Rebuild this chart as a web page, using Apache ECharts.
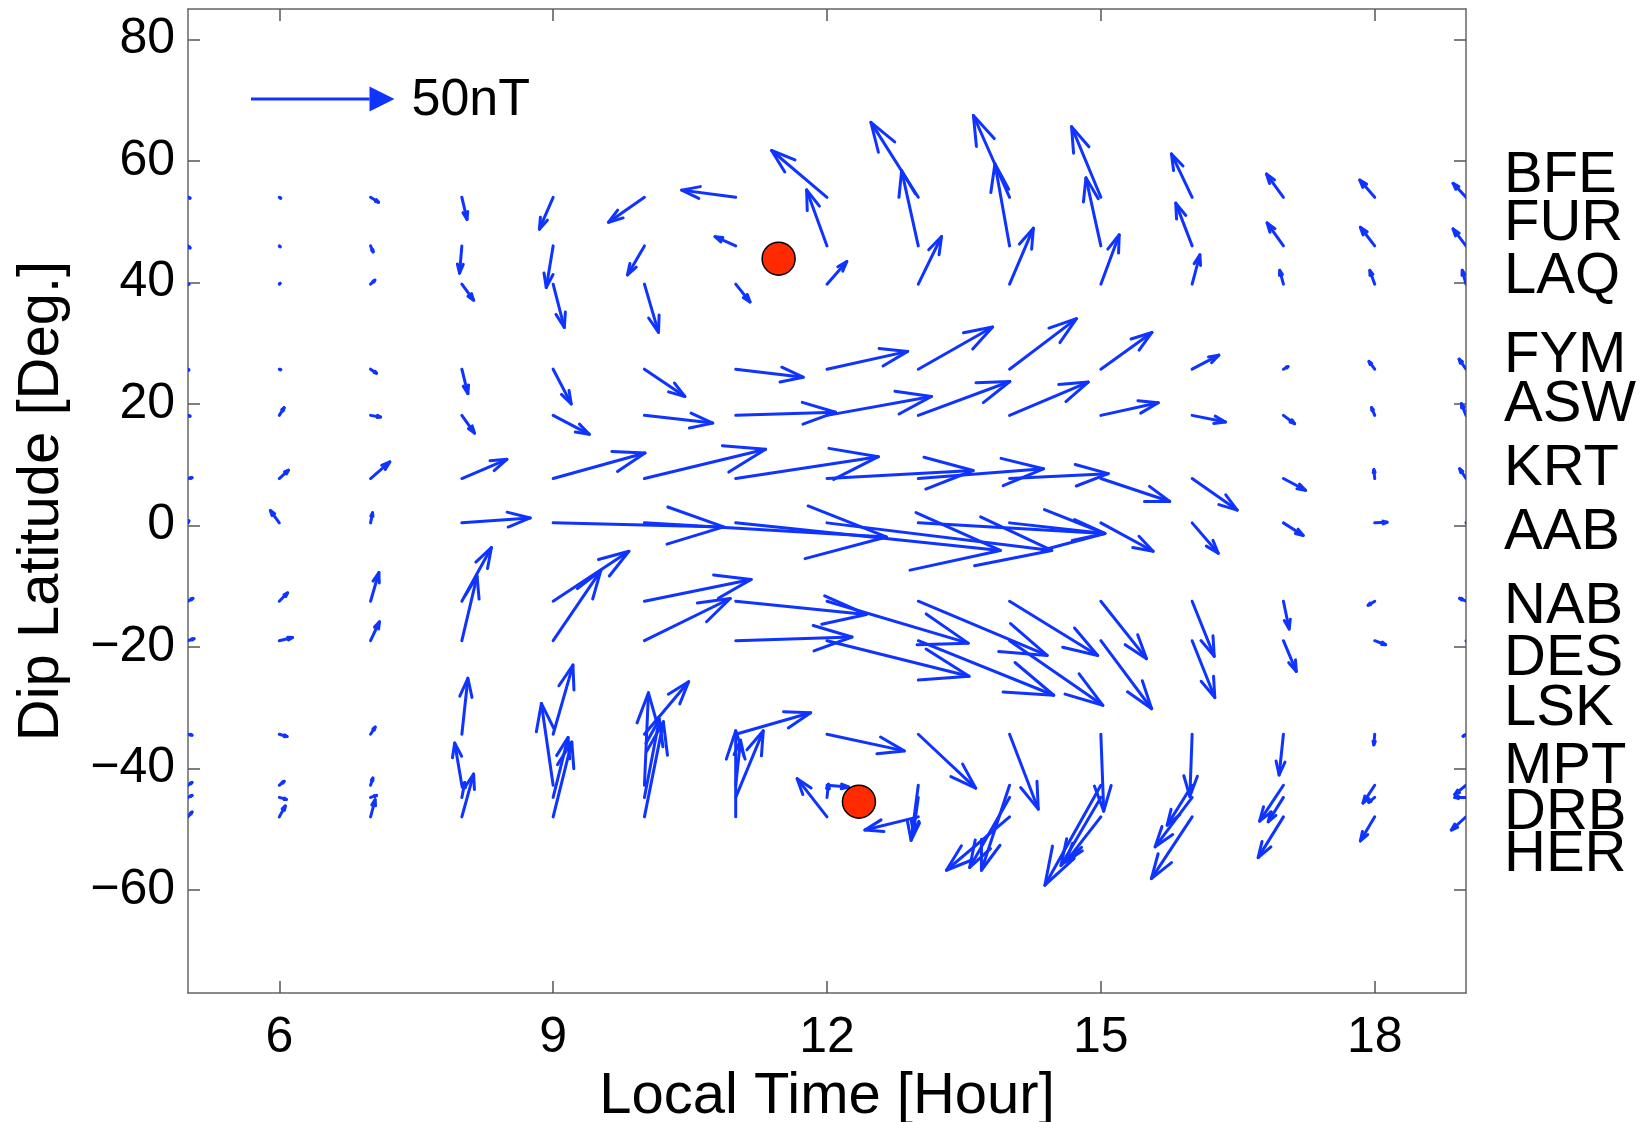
<!DOCTYPE html>
<html><head><meta charset="utf-8">
<script src="https://cdn.jsdelivr.net/npm/echarts@6/dist/echarts.min.js"></script>
<style>html,body{margin:0;padding:0;background:#fff}#c{width:1641px;height:1122px}</style>
</head><body><div id="c"></div>
<script>
// ---- data (vectors in nT: [east, north]) ----
const hours = [5,6,7,8,9,10,11,12,13,14,15,16,17,18,19];
const stations = ['BFE','FUR','LAQ','FYM','ASW','KRT','AAB','NAB','DES','LSK','MPT','DRB','HER'];
const dipLat = [54.0, 46.0, 39.7, 25.7, 18.1, 7.7, 0.4, -12.5, -19.0, -34.4, -42.8, -44.8, -48.0];
const labelLat = [57.5, 49.6, 40.8, 27.8, 19.8, 9.2, -1.2, -13.4, -22.0, -30.3, -39.8, -47.3, -54.2];

const BFE = [[0.7,-0.3],[0.5,-0.3],[2.8,-1.7],[1.8,-7.7],[-4.8,-11.1],[-12.5,-8.7],[-18.8,2.5],[-19.3,16.3],[-16.5,26.1],[-12.6,28.5],[-10.2,24.6],[-7.2,15.1],[-5.9,8.1],[-5.2,6.0],[-4.5,4.9]];
const FUR = [[0.7,-0.7],[0.3,-0.3],[0.9,-2.1],[-0.8,-9.5],[-2.4,-14.5],[-5.9,-10.1],[-7.2,3.2],[-7.1,19.5],[-5.8,26.2],[-5.1,28.6],[-5.2,23.7],[-5.7,14.9],[-5.7,8.0],[-5.0,6.5],[-4.5,5.9]];
const LAQ = [[0.3,0],[0.3,0.3],[1.5,1.4],[4.1,-5.6],[3.9,-15.1],[4.9,-16.8],[5.0,-6.2],[6.9,7.9],[8.1,16.6],[8.3,19.5],[6.4,17.2],[2.7,10.2],[-1.3,4.8],[-1.7,4.8],[-1.3,4.8]];
const FYM = [[0.3,-0.3],[0.5,-0.2],[2.1,-1.4],[2.1,-8.5],[6.3,-12.1],[14.1,-9.5],[23.5,-2.8],[28.1,6.2],[25.9,14.7],[23.3,17.6],[17.8,12.8],[9.3,4.9],[1.6,0.9],[-2.0,2.7],[-2.4,3.5]];
const ASW = [[0.7,-0.3],[1.7,2.7],[3.5,-0.6],[4.4,-6.2],[12.6,-6.6],[23.8,-2.7],[34.8,1.1],[36.4,6.6],[31.9,11.8],[27.4,11.6],[20.0,4.4],[11.6,-2.3],[3.9,-2.9],[-1.1,2.7],[-1.6,4.1]];
const KRT = [[1.4,0.3],[3.2,2.9],[6.7,5.8],[15.7,6.7],[32.0,8.9],[42.2,10.2],[49.7,7.6],[50.9,2.8],[43.6,3.4],[34.4,1.7],[24.0,-8.0],[15.7,-11.0],[7.7,-4.1],[-0.3,3.1],[-2.2,3.4]];
const AAB = [[0.3,0.7],[-3.1,4.3],[0.7,3.5],[23.8,1.7],[59.4,-1.4],[84.3,-4.9],[92.2,-9.6],[78.3,-9.6],[65.0,-3.7],[33.2,-3.7],[18.2,-9.9],[9.1,-10.6],[6.9,-4.4],[4.3,0.2],[0.3,0]];
const NAB = [[1.7,1.0],[2.9,2.9],[2.9,10.0],[10.3,18.7],[26.4,17.4],[37.2,7.6],[45.5,-4.6],[49.2,-14.6],[44.9,-18.9],[30.7,-18.9],[15.9,-20.0],[7.7,-19.2],[2.0,-9.7],[-2.3,-1.4],[-2.2,1.0]];
const DES = [[2.1,0.7],[4.6,1.1],[3.1,6.6],[5.3,22.5],[16.6,24.4],[29.9,14.7],[40.5,1.3],[49.5,-12.4],[47.2,-19.0],[32.5,-22.5],[17.7,-23.7],[7.9,-19.8],[4.5,-10.7],[3.8,-1.4],[0.7,0]];
const LSK = [[1.4,-0.3],[2.7,-0.8],[1.6,2.5],[2.1,19.5],[6.9,24.1],[15.4,18.3],[26.1,7.5],[26.9,-5.8],[20.0,-18.8],[10.0,-26.1],[1.0,-26.8],[-0.8,-21.7],[-1.5,-14.2],[-0.3,-3.7],[-1.0,-0.7]];
const MPT = [[1.4,1.0],[1.7,1.4],[0.8,2.5],[-2.5,14.7],[-4.1,28.5],[1.4,32.2],[1.7,15.7],[7.5,-0.6],[-2.5,-19.2],[-9.8,-29.6],[-19.5,-34.8],[-8.7,-13.9],[-8.3,-12.5],[-4.1,-6.2],[-3.9,-3.2]];
const DRB = [[1.4,0.7],[2.5,-0.7],[2.1,0.7],[1.0,5.2],[5.2,20.9],[5.2,27.2],[9.6,23.2],[0.5,4.6],[-1.7,-12.2],[-13.9,-24.4],[-13.9,-23.7],[-12.9,-17.2],[-5.3,-8.5],[-2.1,-1.7],[-3.9,0]];
const HER = [[1.4,1.7],[2.1,3.8],[1.6,6.0],[4.1,14.9],[6.5,26.1],[6.6,33.1],[0.0,30.0],[-10.4,13.3],[-18.6,-4.6],[-22.0,-18.6],[-12.2,-15.7],[-14.2,-21.5],[-8.8,-14.2],[-5.0,-8.4],[-5.1,-4.6]];

const xTicks = [6, 9, 12, 15, 18];
const yTicks = [-60, -40, -20, 0, 20, 40, 60, 80];
const vortexCenters = [[11.47, 43.9], [12.35, -45.5]];
const legendVector = [5.69, 70.2, 50];   // [hour, lat, nT]
const legendText = '50nT';

// ---- build ----
const NT_PER_HOUR = 31.8;   // quiver scale: nT drawn per hour of x-axis length
const BLUE = '#0f34ff';
const FONT = '"Liberation Sans", Arial, Helvetica, sans-serif';
const vectors = [BFE, FUR, LAQ, FYM, ASW, KRT, AAB, NAB, DES, LSK, MPT, DRB, HER];
const arrowData = [];
stations.forEach((s, i) => {
  hours.forEach((h, j) => {
    arrowData.push([h, dipLat[i], vectors[i][j][0], vectors[i][j][1]]);
  });
});

function renderArrow(params, api) {
  const p = api.coord([api.value(0), api.value(1)]);
  const s = api.size([1, 0])[0] / NT_PER_HOUR;
  const u = api.value(2) * s, v = -api.value(3) * s;
  const tip = [p[0] + u, p[1] + v];
  const a = 0.33, b = 0.33;
  const b1 = [tip[0] - a * (u + b * v), tip[1] - a * (v - b * u)];
  const b2 = [tip[0] - a * (u - b * v), tip[1] - a * (v + b * u)];
  const cs = params.coordSys;
  const style = { stroke: BLUE, lineWidth: 3, fill: null, lineCap: 'round', lineJoin: 'round' };
  return {
    type: 'group',
    clipPath: { type: 'rect', shape: { x: cs.x, y: cs.y, width: cs.width, height: cs.height } },
    children: [
      { type: 'polyline', shape: { points: [p, tip] }, style: style },
      { type: 'polyline', shape: { points: [b1, tip, b2] }, style: style }
    ]
  };
}

function renderLegend(params, api) {
  const p = api.coord([api.value(0), api.value(1)]);
  const s = api.size([1, 0])[0] / NT_PER_HOUR;
  const L = api.value(2) * s;
  const tip = [p[0] + L, p[1]];
  const hl = 25, hw = 12.5;
  return {
    type: 'group',
    children: [
      { type: 'line', shape: { x1: p[0], y1: p[1], x2: tip[0] - hl, y2: p[1] }, style: { stroke: BLUE, lineWidth: 3 } },
      { type: 'polygon', shape: { points: [[tip[0] - hl, p[1] - hw], tip, [tip[0] - hl, p[1] + hw]] }, style: { fill: BLUE } },
      { type: 'text', x: tip[0] + 17, y: p[1] + 2, style: { text: legendText, font: '52px ' + FONT, fill: '#000', verticalAlign: 'middle', align: 'left' } }
    ]
  };
}

function renderStationLabel(params, api) {
  const p = api.coord([api.value(0), api.value(1)]);
  return {
    type: 'text', x: p[0] + 38, y: p[1],
    style: { text: stations[params.dataIndex], font: '58px ' + FONT, fill: '#000', verticalAlign: 'middle', align: 'left' }
  };
}

const fmtY = v => (v < 0 ? '\u2212' + Math.abs(v) : String(v));
const axisLine = { show: true, onZero: false, lineStyle: { color: '#666', width: 1.5 } };
const tickStyle = (vals) => ({ show: true, inside: true, length: 12, customValues: vals, lineStyle: { color: '#555', width: 1.5 } });

const chart = echarts.init(document.getElementById('c'), null, { renderer: 'canvas' });
chart.setOption({
  animation: false,
  backgroundColor: '#fff',
  grid: { left: 188, right: 175, top: 9, bottom: 129, containLabel: false, outerBoundsMode: 'none' },
  xAxis: [
    {
      type: 'value', min: 5, max: 19, position: 'bottom',
      axisLine: axisLine, axisTick: tickStyle(xTicks), splitLine: { show: false },
      axisLabel: { customValues: xTicks, fontSize: 50, fontFamily: FONT, color: '#000', margin: 20 },
      name: 'Local Time [Hour]', nameLocation: 'middle', nameGap: 68,
      nameTextStyle: { fontSize: 58, fontFamily: FONT, color: '#000' }
    },
    {
      type: 'value', min: 5, max: 19, position: 'top',
      axisLine: axisLine, axisTick: tickStyle(xTicks), splitLine: { show: false },
      axisLabel: { show: false }
    }
  ],
  yAxis: [
    {
      type: 'value', min: -77, max: 85, position: 'left',
      axisLine: axisLine, axisTick: tickStyle(yTicks), splitLine: { show: false },
      axisLabel: { customValues: yTicks, formatter: fmtY, fontSize: 50, fontFamily: FONT, color: '#000', margin: 13 },
      name: 'Dip Latitude [Deg.]', nameLocation: 'middle', nameGap: 117, nameRotate: 90,
      nameTextStyle: { fontSize: 58, fontFamily: FONT, color: '#000' }
    },
    {
      type: 'value', min: -77, max: 85, position: 'right',
      axisLine: axisLine, axisTick: tickStyle(yTicks), splitLine: { show: false },
      axisLabel: { show: false }
    }
  ],
  series: [
    {
      type: 'custom', renderItem: renderArrow, data: arrowData, clip: true, silent: true,
      xAxisIndex: 0, yAxisIndex: 0, z: 2
    },
    {
      type: 'custom', renderItem: renderLegend, data: [legendVector], silent: true,
      xAxisIndex: 0, yAxisIndex: 0, z: 3
    },
    {
      type: 'scatter', data: vortexCenters, symbol: 'circle', symbolSize: 33, silent: true,
      itemStyle: { color: '#ff2a00', borderColor: '#000', borderWidth: 1.5, opacity: 1 },
      xAxisIndex: 0, yAxisIndex: 0, z: 4
    },
    {
      type: 'custom', renderItem: renderStationLabel, data: labelLat.map(l => [19, l]), silent: true,
      clip: false, xAxisIndex: 0, yAxisIndex: 0, z: 5
    }
  ]
});
</script>
</body></html>
